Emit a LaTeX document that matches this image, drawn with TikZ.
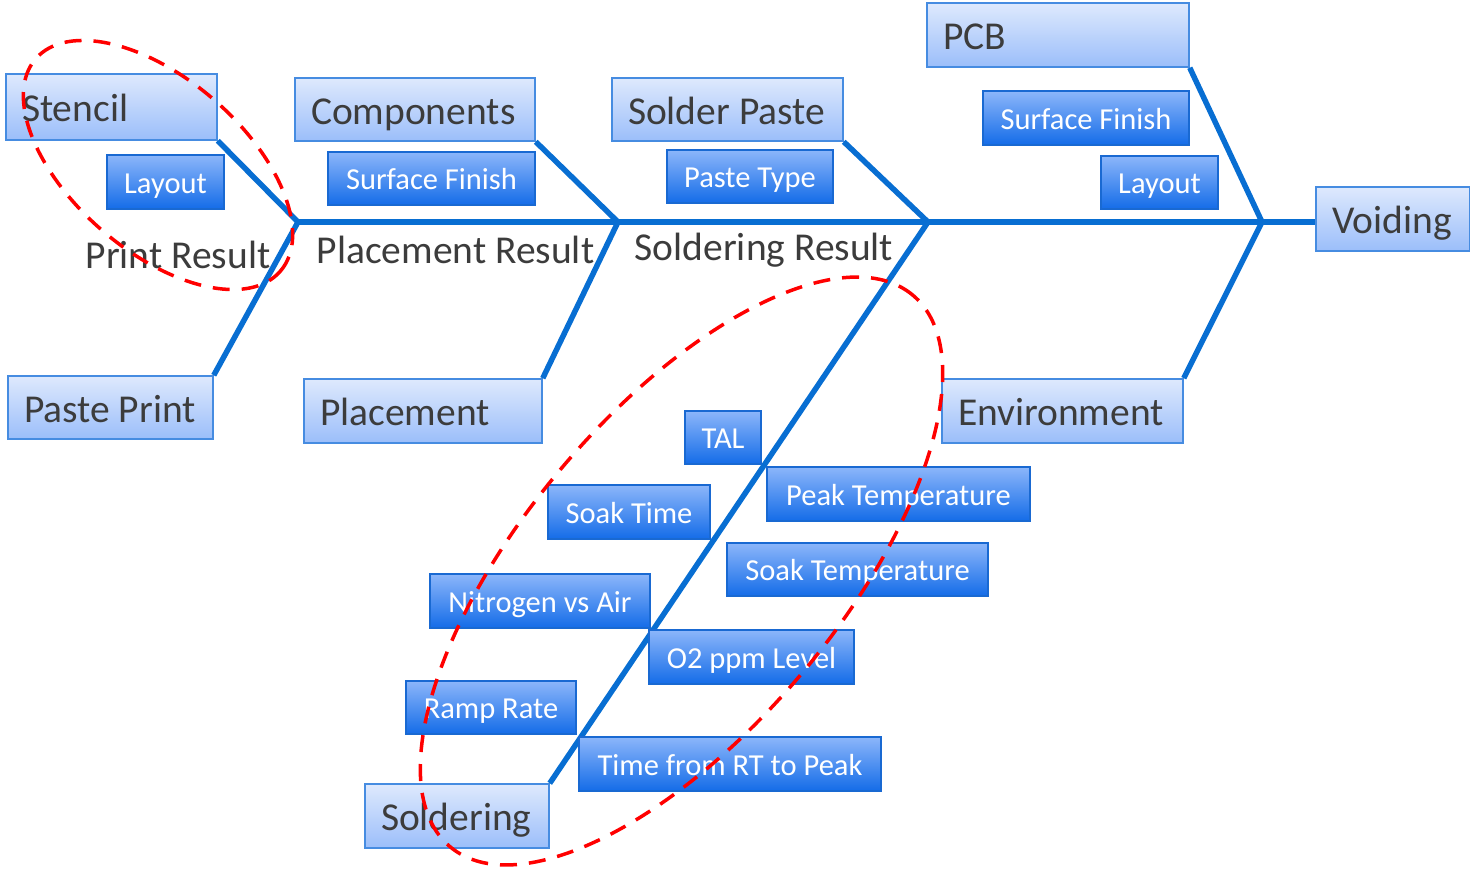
\documentclass[tikz,border=0pt]{standalone}
\usepackage{fontspec}
\setmainfont{Carlito}
\definecolor{bonecol}{RGB}{8,110,210}
\definecolor{bigtop}{RGB}{222,233,253}
\definecolor{bigbot}{RGB}{155,190,250}
\definecolor{bigedge}{RGB}{70,140,225}
\definecolor{smalltop}{RGB}{140,182,250}
\definecolor{smallbot}{RGB}{20,108,232}
\definecolor{smalledge}{RGB}{25,105,210}
\definecolor{txtgray}{RGB}{60,60,60}
\newcommand{\bigfnt}{\fontsize{39.5}{44}\selectfont}
\newcommand{\smallfnt}{\fontsize{30.5}{36}\selectfont}
\newcommand{\lefttext}[2]{\makebox[#1][l]{#2}}

\begin{document}
\begin{tikzpicture}[x=1pt,y=-1pt,
    bone/.style={draw=bonecol,line width=5.5pt},
    bigbox/.style={draw=bigedge,line width=1.5pt,top color=bigtop,bottom color=bigbot,
                   text=txtgray,font=\bigfnt,inner xsep=16pt,inner ysep=0pt,
                   text height=36pt,text depth=6.5pt},
    smallbox/.style={draw=smalledge,line width=1.5pt,top color=smalltop,bottom color=smallbot,
                   text=white,font=\smallfnt,inner sep=0pt,text height=27.5pt,text depth=5pt},
    result/.style={text=txtgray,font=\bigfnt,inner sep=0pt},
    redring/.style={draw=red,line width=3.5pt,dash pattern=on 17pt off 12pt}]
                    \useasboundingbox (0,0) rectangle (1470,870);
                    \coordinate (j1) at (298,222);
                    \coordinate (j2) at (618,222);
                    \coordinate (j3) at (928,222);
                    \coordinate (j4) at (1262,222);
                    \node[bigbox,minimum height=66pt] (stencil) at (111.5,107) {\lefttext{179pt}{Stencil}};
                    \node[bigbox,minimum height=63pt] (components) at (415,109.5) {\lefttext{208pt}{Components}};
                    \node[bigbox,minimum height=63pt] (solderpaste) at (727.5,109.5) {\lefttext{199pt}{Solder Paste}};
                    \node[bigbox,minimum height=64pt] (pcb) at (1058,35) {\lefttext{230pt}{PCB}};
                    \node[bigbox,minimum height=64pt] (voiding) at (1393,219) {\lefttext{122pt}{Voiding}};
                    \node[bigbox,minimum height=63pt] (pasteprint) at (110.5,407.5) {\lefttext{173pt}{Paste Print}};
                    \node[bigbox,minimum height=64pt] (placement) at (423,411) {\lefttext{206pt}{Placement}};
                    \node[bigbox,minimum height=64pt] (environment) at (1062.5,411) {\lefttext{209pt}{Environment}};
                    \node[bigbox,minimum height=64pt] (soldering) at (457,816) {\lefttext{152pt}{Soldering}};
                    \draw[bone] (j1) -- (j1 -| voiding.west);
                    \foreach \a/\b in {stencil.south east/j1, pasteprint.north east/j1,
                                       components.south east/j2, placement.north east/j2,
                                       solderpaste.south east/j3, soldering.north east/j3,
                                       pcb.south east/j4, environment.north east/j4}
                    {
                        \draw[bone] (\a) -- (\b);
                    }
                    \node[smallbox,minimum width=117pt,minimum height=54pt] (layoutA) at (165.5,182) {Layout};
                    \node[smallbox,minimum width=207pt,minimum height=53pt] (finishA) at (431.5,178.5) {Surface Finish};
                    \node[smallbox,minimum width=166pt,minimum height=53pt] (pastetype) at (750,176.5) {Paste Type};
                    \node[smallbox,minimum width=206pt,minimum height=54pt] (finishB) at (1086,118) {Surface Finish};
                    \node[smallbox,minimum width=117pt,minimum height=53pt] (layoutB) at (1159.5,182.5) {Layout};
                    \node[smallbox,minimum width=76pt,minimum height=53pt] (tal) at (723,437.5) {TAL};
                    \node[smallbox,minimum width=162pt,minimum height=54pt] (soaktime) at (629,512) {Soak Time};
                    \node[smallbox,minimum width=263pt,minimum height=54pt] (peaktemp) at (898.5,494) {Peak Temperature};
                    \node[smallbox,minimum width=261pt,minimum height=53pt] (soaktemp) at (857.5,569.5) {Soak Temperature};
                    \node[smallbox,minimum width=220pt,minimum height=54pt] (nitrogen) at (540,601) {Nitrogen vs Air};
                    \node[smallbox,minimum width=205pt,minimum height=54pt] (oxygen) at (751.5,657) {O2 ppm Level};
                    \node[smallbox,minimum width=170pt,minimum height=53pt] (ramprate) at (491,707.5) {Ramp Rate};
                    \node[smallbox,minimum width=302pt,minimum height=54pt] (rttopeak) at (730,764) {Time from RT to Peak};
                    \node[result] (printres) at (178,255) {Print Result};
                    \node[result] (placeres) at (455.5,250) {Placement Result};
                    \node[result] (solderres) at (764,250) {Soldering Result};
                    \draw[redring] (158,165) ellipse [x radius=162pt,y radius=86pt,rotate=-41];
                    \draw[redring] (681.5,571) ellipse [x radius=360pt,y radius=158pt,rotate=50];
                \end{tikzpicture}
\end{document}
